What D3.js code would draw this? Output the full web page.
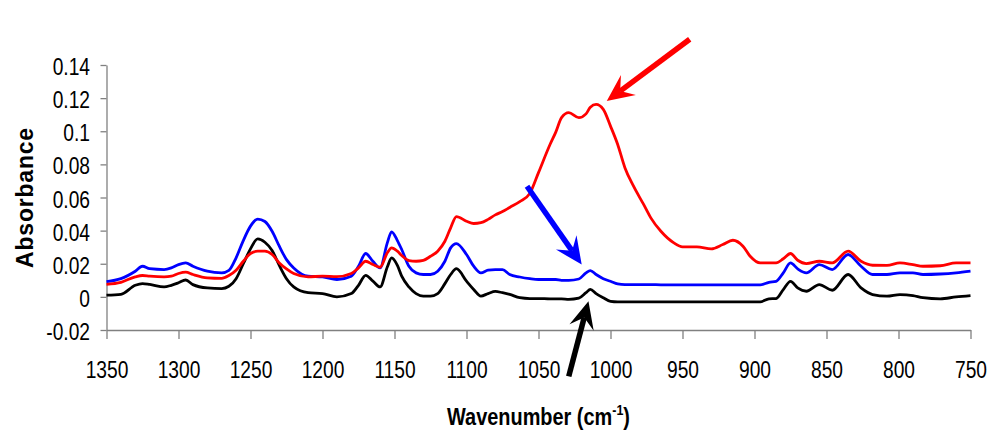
<!DOCTYPE html>
<html>
<head>
<meta charset="utf-8">
<script src="https://cdn.jsdelivr.net/npm/d3@7"></script>
<style>
  html, body { margin: 0; padding: 0; background: #fff; }
  svg { display: block; font-family: "Liberation Sans", Arial, sans-serif; }
</style>
</head>
<body>
<div id="chart"></div>
<script>
// wavenumber grid (cm-1), shared by the three spectra
const wavenumbers = [
  1350,1340,1330,1325,1320,1310,1305,1300,1295,1290,
  1280,1270,1265,1260,1255,1250,1245,1240,1235,1230,
  1225,1220,1210,1200,1190,1180,1175,1170,1165,1160,
  1155,1152,1148,1145,1140,1135,1130,1125,1120,1115,
  1111,1107,1100,1095,1090,1085,1080,1075,1070,1063,
  1056,1050,1042,1038,1034,1029,1022,1017,1014,1010,
  1005,1000,995,990,984,977,972,965,956,950,
  940,930,922,915,908,903,896,890,885,880,
  875,870,864,855,846,835,826,818,808,799,
  790,783,771,760,750
];

const blackValues = [
  0.001,0.0015,0.007,0.008,0.0075,0.006,0.007,0.0085,0.0102,0.0074,
  0.0054,0.005,0.0064,0.011,0.02,0.029,0.035,0.033,0.028,0.019,
  0.011,0.006,0.0025,0.002,0.0,0.002,0.007,0.013,0.0095,0.006,
  0.018,0.0235,0.019,0.0125,0.006,0.002,0.0005,0.0005,0.002,0.008,
  0.0135,0.017,0.0095,0.0045,0.0005,0.002,0.0033,0.0025,0.0015,-0.0005,
  -0.001,-0.001,-0.0012,-0.0012,-0.0012,-0.0015,-0.0008,0.0025,0.0045,0.002,
  -0.0005,-0.0027,-0.003,-0.003,-0.003,-0.003,-0.003,-0.003,-0.003,-0.003,
  -0.003,-0.003,-0.003,-0.003,-0.003,-0.003,-0.003,-0.0012,-0.001,0.0044,
  0.0094,0.0054,0.0034,0.0074,0.004,0.0135,0.0054,0.0014,0.0004,0.0014,
  0.0008,-0.0005,-0.0012,0.0,0.0008
];

const blueValues = [
  0.0092,0.011,0.0155,0.0185,0.017,0.0165,0.0175,0.0195,0.0205,0.0185,
  0.0155,0.0145,0.016,0.0236,0.034,0.0427,0.047,0.0455,0.0396,0.0306,
  0.0225,0.0175,0.0125,0.0121,0.0105,0.0125,0.0185,0.0262,0.0215,0.0175,
  0.0326,0.0393,0.034,0.0286,0.0185,0.0145,0.0135,0.0135,0.0155,0.0215,
  0.0296,0.0322,0.0256,0.0185,0.0145,0.0161,0.0165,0.0165,0.0135,0.012,
  0.011,0.0105,0.0105,0.0105,0.01,0.01,0.0108,0.0145,0.0159,0.0135,
  0.011,0.0094,0.0078,0.0074,0.0074,0.0074,0.0074,0.0073,0.0073,0.0073,
  0.0073,0.0073,0.0072,0.0072,0.0072,0.0072,0.0072,0.0088,0.0094,0.0145,
  0.0205,0.0169,0.0145,0.0195,0.0165,0.0256,0.0185,0.0135,0.0135,0.0145,
  0.0145,0.0135,0.0138,0.0145,0.0155
];

const redValues = [
  0.0076,0.0088,0.0121,0.0129,0.0125,0.0121,0.0125,0.0141,0.0149,0.0135,
  0.0115,0.0112,0.0129,0.0161,0.0215,0.0262,0.0276,0.0276,0.0256,0.0205,
  0.0169,0.0141,0.0121,0.0125,0.0122,0.0141,0.0175,0.0215,0.0195,0.0179,
  0.0266,0.0296,0.0276,0.025,0.0219,0.0215,0.022,0.0245,0.0276,0.0336,
  0.0417,0.0485,0.0457,0.0443,0.0448,0.0468,0.0495,0.0515,0.054,0.0575,
  0.0625,0.075,0.092,0.0995,0.1082,0.1112,0.1082,0.1105,0.1145,0.1162,
  0.1132,0.1031,0.092,0.078,0.0668,0.0558,0.0477,0.0396,0.0326,0.0302,
  0.0302,0.029,0.0316,0.0342,0.0306,0.0245,0.0205,0.0205,0.0205,0.023,
  0.0262,0.0221,0.0201,0.0215,0.0205,0.0276,0.0215,0.0191,0.019,0.0205,
  0.0195,0.0185,0.0188,0.0205,0.0205
];

const xTicks = [1350,1300,1250,1200,1150,1100,1050,1000,950,900,850,800,750];
const yTicks = [-0.02,0,0.02,0.04,0.06,0.08,0.1,0.12,0.14];
const yTickLabels = ["-0.02","0","0.02","0.04","0.06","0.08","0.1","0.12","0.14"];

// annotation arrows, in data units: [wavenumber, absorbance]
const arrowColors = ["#ff0000", "#0000ff", "#000000"];
const arrowTails = [[945, 0.1555], [1058, 0.0668], [1029, -0.048]];
const arrowTips  = [[1002.6, 0.1182], [1020, 0.0195], [1015.3, -0.0027]];

const width = 994, height = 442;
const margin = { left: 106.5, right: 23.5, top: 65, bottom: 112 };

const svg = d3.select("#chart").append("svg")
  .attr("width", width)
  .attr("height", height);

svg.append("rect").attr("width", width).attr("height", height).attr("fill", "#fff");

const x = d3.scaleLinear().domain([1350, 750]).range([margin.left, width - margin.right]);
const y = d3.scaleLinear().domain([-0.02, 0.14]).range([height - margin.bottom, margin.top]);

// axes
const xAxis = svg.append("g")
  .attr("transform", `translate(0,${y(-0.02)})`)
  .call(d3.axisBottom(x).tickValues(xTicks).tickSize(9).tickSizeOuter(0).tickFormat(d3.format("d")));

const yAxis = svg.append("g")
  .attr("transform", `translate(${x(1350)},0)`)
  .call(d3.axisLeft(y).tickValues(yTicks).tickSize(6).tickSizeOuter(0)
    .tickFormat((d, i) => yTickLabels[i]));

[xAxis, yAxis].forEach(a => {
  a.select(".domain").attr("stroke", "#808080").attr("stroke-width", 1.3);
  a.selectAll(".tick line").attr("stroke", "#808080").attr("stroke-width", 1.3);
  a.selectAll(".tick text").attr("fill", "#000").attr("font-size", 24)
    .attr("font-family", "'Liberation Sans', Arial, sans-serif");
});

xAxis.selectAll(".tick text")
  .attr("x", 0).attr("y", 0).attr("dy", 0)
  .attr("transform", "translate(0,47.5) scale(0.8,1)");

yAxis.selectAll(".tick text")
  .attr("x", 0).attr("dy", 0)
  .attr("transform", "translate(-16.5,9.5) scale(0.8,1)");

// axis titles
svg.append("text")
  .attr("transform", `translate(33,${(y(0.14) + y(-0.02)) / 2}) rotate(-90)`)
  .attr("text-anchor", "middle")
  .attr("font-weight", "bold")
  .attr("font-size", 23)
  .attr("letter-spacing", 0.8)
  .text("Absorbance");

const xt = svg.append("text")
  .attr("transform", `translate(${(x(1350) + x(750)) / 2},425) scale(0.83,1)`)
  .attr("text-anchor", "middle")
  .attr("font-weight", "bold")
  .attr("font-size", 24);
xt.append("tspan").text("Wavenumber (cm");
xt.append("tspan").attr("font-size", 15).attr("dy", -10).text("-1");
xt.append("tspan").attr("dy", 10).text(")");

// spectra
const line = d3.line()
  .x(d => x(d[0]))
  .y(d => y(d[1]))
  .curve(d3.curveMonotoneX);

const series = [
  { color: "#000000", values: blackValues },
  { color: "#0000ff", values: blueValues },
  { color: "#ff0000", values: redValues }
];

svg.append("g")
  .selectAll("path")
  .data(series)
  .join("path")
  .attr("fill", "none")
  .attr("stroke", d => d.color)
  .attr("stroke-width", 2.8)
  .attr("stroke-linejoin", "round")
  .attr("d", d => line(wavenumbers.map((w, i) => [w, d.values[i]])));

// arrows
const headLen = 27, headHalf = 12.5, notch = 0.62;
const arrows = svg.append("g")
  .selectAll("g")
  .data(arrowColors.map((c, i) => ({ color: c, tail: arrowTails[i], tip: arrowTips[i] })))
  .join("g");

arrows.each(function (d) {
  const g = d3.select(this);
  const x0 = x(d.tail[0]), y0 = y(d.tail[1]);
  const x1 = x(d.tip[0]), y1 = y(d.tip[1]);
  const len = Math.hypot(x1 - x0, y1 - y0);
  const ang = Math.atan2(y1 - y0, x1 - x0) * 180 / Math.PI;
  const h = g.append("g").attr("transform", `translate(${x0},${y0}) rotate(${ang})`);
  h.append("line")
    .attr("x1", 0).attr("y1", 0)
    .attr("x2", len - headLen * notch).attr("y2", 0)
    .attr("stroke", d.color).attr("stroke-width", 5.5);
  h.append("path")
    .attr("d", `M${len},0L${len - headLen},${-headHalf}L${len - headLen * notch},0L${len - headLen},${headHalf}Z`)
    .attr("fill", d.color);
});
</script>
</body>
</html>
